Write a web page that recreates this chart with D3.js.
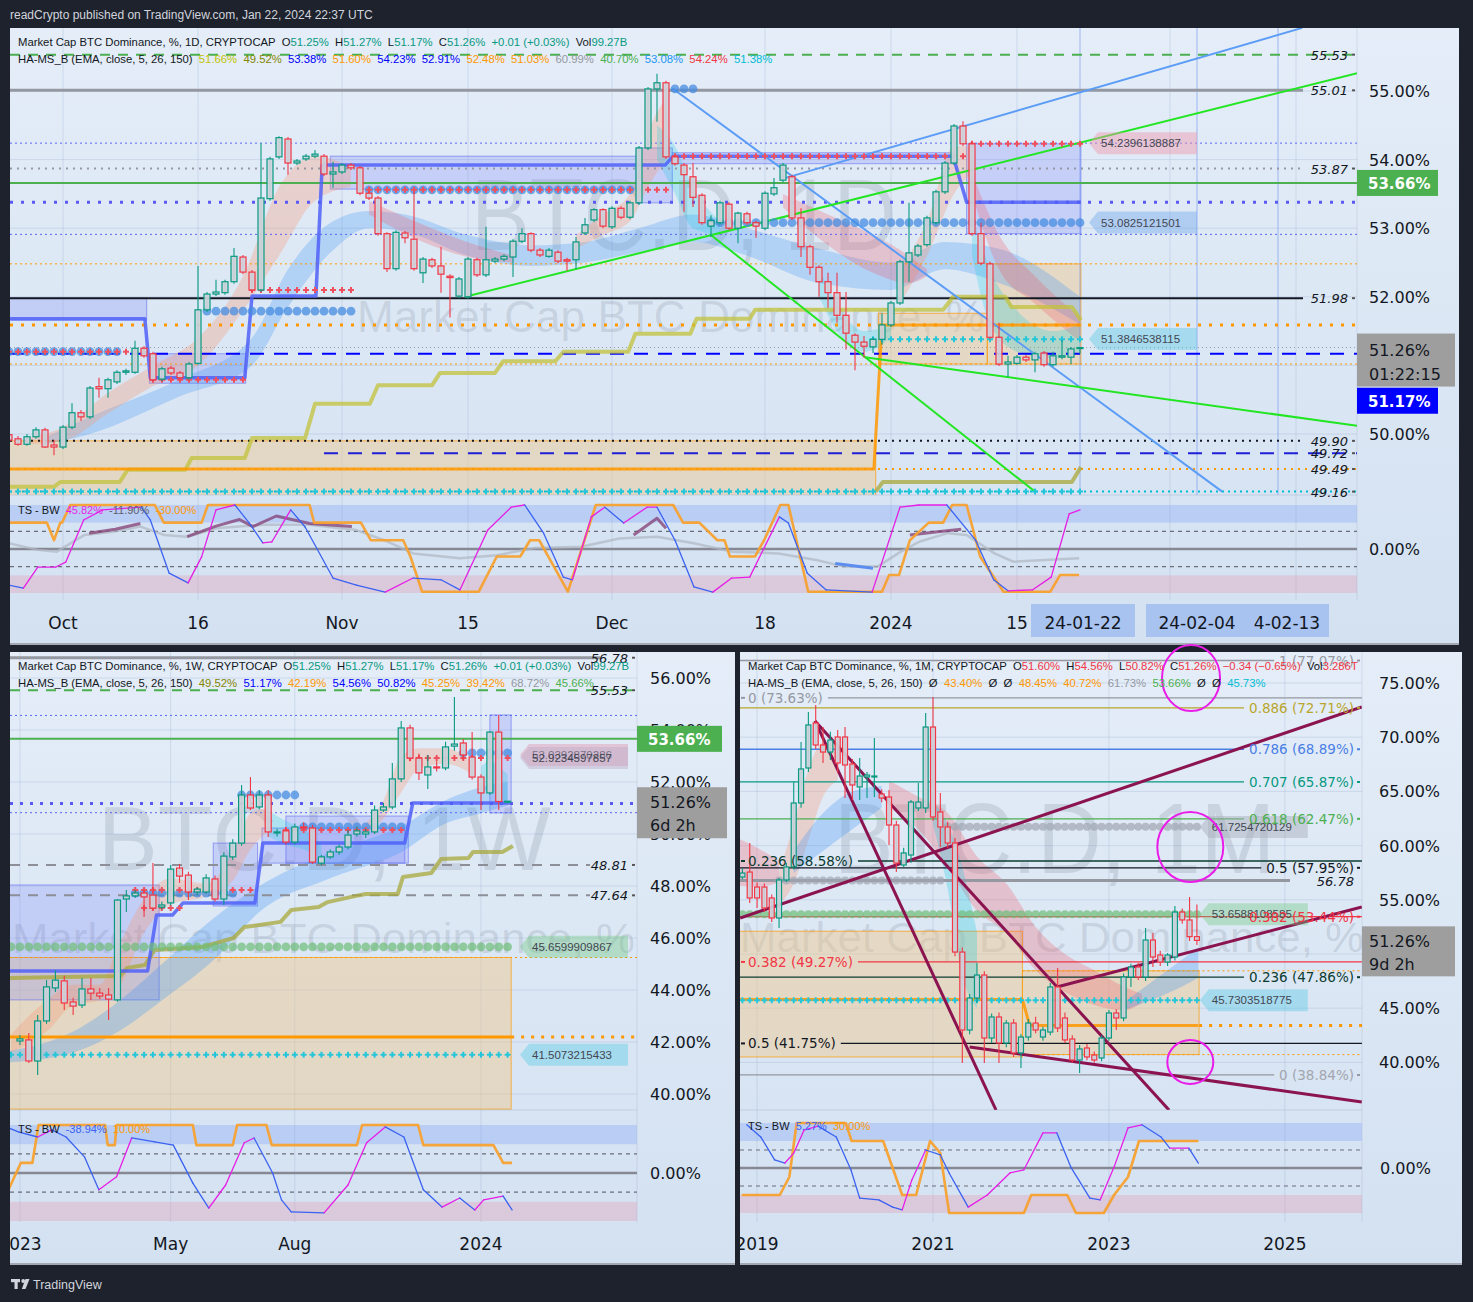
<!DOCTYPE html>
<html><head><meta charset="utf-8">
<script src="https://cdn.jsdelivr.net/npm/d3@7/dist/d3.min.js"></script>
<style>html,body{margin:0;padding:0;background:#1e222d;overflow:hidden}text{white-space:pre}</style>
</head><body>
<script>
/* ======================= DATA ======================= */
// ---- Panel 1 : daily (day index 0 = 2023-10-01, first candle = -6) ----
const dailyFirst=-6;
const dailyOpen=[49.99,49.93,49.85,49.96,50.06,49.84,49.81,50.10,50.31,50.25,50.69,50.66,50.76,50.90,50.90,51.25,51.17,50.80,50.96,50.89,50.82,51.03,51.81,52.04,52.06,52.22,52.58,52.36,52.10,53.43,54.04,54.30,53.95,54.01,54.05,54.05,53.79,53.82,53.92,53.88,53.51,53.44,52.92,52.41,52.93,52.84,52.35,52.54,52.45,52.30,52.01,52.00,52.54,52.32,52.52,52.55,52.58,52.81,52.92,52.68,52.59,52.65,52.54,52.54,52.93,53.12,53.27,53.02,53.29,53.16,53.37,54.17,55.03,55.12,54.04,53.92,53.75,53.48,53.03,53.08,53.35,53.00,53.21,53.08,53.00,53.50,53.70,53.75,53.15,52.73,52.43,52.22,52.06,51.73,51.44,51.34,51.27,51.38,51.59,51.91,52.51,52.61,52.76,53.08,53.53,53.95,54.49,54.23,52.92,52.48,51.41,51.02,51.03,51.12,51.08,51.18,51.01,51.12,51.12,51.25];
const dailyHigh=[50.03,49.97,50.00,50.10,50.09,49.91,50.13,50.45,50.35,50.70,50.82,50.82,50.93,50.95,51.36,51.28,51.20,50.98,50.99,50.92,51.05,52.45,52.07,52.25,52.25,52.71,52.61,52.39,54.24,54.04,54.34,54.33,54.01,54.08,54.14,54.08,53.97,53.95,53.95,53.91,53.54,53.47,52.94,52.97,52.96,53.53,52.58,52.57,52.73,52.33,52.29,52.58,52.57,53.02,52.58,52.62,52.84,53.00,52.94,52.71,52.71,52.68,52.57,52.87,53.15,53.29,53.29,53.32,53.32,53.40,54.20,55.06,55.25,55.15,54.07,53.95,53.95,53.51,53.19,53.40,53.38,53.24,53.24,53.11,53.54,53.73,53.95,53.78,53.29,52.76,52.46,52.35,52.35,52.07,51.47,51.43,51.41,51.76,51.94,52.54,53.37,52.77,53.18,53.56,53.98,54.52,54.56,54.26,53.08,52.51,51.62,51.14,51.15,51.15,51.20,51.21,51.20,51.37,51.27,51.27];
const dailyLow=[49.88,49.83,49.83,49.93,49.80,49.69,49.78,50.07,50.19,50.22,50.53,50.53,50.73,50.86,50.88,51.11,50.76,50.77,50.86,50.79,50.79,51.01,51.78,52.01,52.03,52.19,52.33,52.07,52.07,53.40,54.01,53.78,53.92,53.98,54.02,53.76,53.59,53.79,53.85,53.48,53.41,52.89,52.36,52.38,52.78,52.38,52.20,52.42,52.06,51.70,51.98,51.97,52.29,52.29,52.49,52.52,52.29,52.78,52.65,52.58,52.57,52.49,52.38,52.41,52.90,53.09,53.00,52.99,53.13,53.13,53.34,54.14,54.55,54.01,53.91,53.24,53.31,53.05,52.87,53.05,52.97,52.78,53.05,52.86,52.97,53.47,53.67,53.12,52.58,52.32,52.00,51.84,51.62,51.23,50.93,51.11,51.18,51.30,51.56,51.88,52.22,52.58,52.73,53.05,53.50,53.92,54.20,52.89,52.46,51.38,50.99,50.83,51.01,51.05,50.90,50.98,50.98,51.09,51.02,51.17];
const dailyClose=[49.91,49.85,49.96,50.06,49.81,49.81,50.10,50.31,50.25,50.67,50.66,50.79,50.90,50.92,51.25,51.14,50.79,50.95,50.89,50.82,51.02,51.81,52.04,52.07,52.22,52.59,52.36,52.10,53.44,54.01,54.32,53.95,53.98,54.05,54.08,53.79,53.82,53.92,53.88,53.51,53.44,52.92,52.41,52.94,52.86,52.41,52.55,52.45,52.33,52.28,52.26,52.55,52.32,52.54,52.55,52.59,52.81,52.92,52.68,52.61,52.68,52.52,52.52,52.80,53.05,53.27,53.03,53.29,53.16,53.37,54.17,55.03,55.12,54.04,53.94,53.78,53.45,53.08,53.11,53.37,53.00,53.22,53.08,53.03,53.51,53.59,53.92,53.15,52.73,52.43,52.22,52.06,51.73,51.47,51.34,51.28,51.38,51.59,51.91,52.51,52.64,52.74,53.15,53.53,53.95,54.49,54.23,52.92,52.49,51.41,51.02,51.05,51.12,51.08,51.17,51.01,51.14,51.14,51.24,51.26];
const dailyTickLabels=["Oct","16","Nov","15","Dec","18","2024","15"];
const dailyTickDays=[0,15,31,45,61,78,92,106];
const dailyGridDays=[0,15,31,45,61,78,92,106,123,137];
const dailyEventDays=[113,126,135];
const dailyPriceTicks=[55,54,53,52,51,50];
const dailyPriceLabels=[55,54,53,52,50];
const dailyLevels=[55.53,55.01,54.24,53.87,53.66,53.38,52.91,52.48,51.98,51.59,51.26,51.17,51.02,49.90,49.72,49.49,49.16];
const dailyLevelTexts=["55.53","55.01","53.87","51.98","49.90","49.72","49.49","49.16"];
const dailyLevelTextVals=[55.53,55.01,53.87,51.98,49.90,49.72,49.49,49.16];
const dailyZones=[[-7,90.3,49.90,48.9],[90.6,102.7,51.76,51.02],[102.7,113.1,52.48,51.02]];
const dailyBoxes=[[-7,9.3,51.98,51.66],[9.6,20.3,51.17,50.74],[29.7,63.7,54.05,53.57],[63.7,67.7,54.17,53.37],[67.7,99,54.10,53.94],[100.4,113.1,54.23,52.92]];
const dailyOliveD=[-7,-1,-0.3,6.3,7.2,13.6,14.3,20.2,21,26.9,28,34.1,35,41,41.9,48,48.9,54.7,55.6,62.8,63.6,69.7,70.4,76.3,76.9,97.8,98.9,104.7,105.4,112.1,113.1];
const dailyOliveV=[49.23,49.23,49.30,49.30,49.48,49.48,49.65,49.65,49.94,49.94,50.44,50.44,50.71,50.71,50.89,50.89,51.06,51.06,51.20,51.20,51.46,51.46,51.68,51.68,51.81,51.81,52.00,52.00,51.85,51.85,51.66];
const dailyOlive2D=[90.3,91.1,112.1,113.1], dailyOlive2V=[49.16,49.30,49.30,49.52];
const dailyOrangeD=[-7,90.1,91,113.1], dailyOrangeV=[49.49,49.49,51.59,51.59];
const dailyBlueD=[-7,9.1,9.7,20.2,21,28.1,28.8,66.9,67.8,98.9,100.4,113.1];
const dailyBlueV=[51.68,51.68,50.82,50.82,52.01,52.01,53.92,53.92,54.05,54.05,53.38,53.38];
const dailyBlueDots=[[51.79,16,32],[51.20,-6,6],[53.56,34,63],[55.03,68,70],[53.08,72,113]];
const dailyRedCross=[[51.20,-6,9],[50.79,10,20],[52.10,21,32],[53.56,34,67],[54.05,68,100],[54.23,101,113]];
const dailyCyanCross=[[51.38,90,113],[49.16,-6,113]];
const dailyTrendsBlue=[[67.7,55.04,128.8,49.16],[80.2,53.73,137.7,55.92]];
const dailyTrendsGreen=[[44.7,52.0,143.8,55.26],[72.1,52.89,108,49.16],[89.1,51.12,143.8,50.12]];
const dailyTags=[["54.2396138887",54.2396],["53.0825121501",53.0825],["51.3846538115",51.3847]];
const dailyRibBlue={d:[-2,3,13,21,25,30,34,38,45,52,58,64,70,76,84,92,98,104,113],t:[49.95,50.25,50.8,51.4,52.4,53.1,53.25,53.2,52.9,52.75,52.8,53.0,53.2,53.0,52.7,52.5,52.8,52.7,52.0],b:[49.85,50.0,50.55,51.0,51.85,52.68,53.0,52.95,52.6,52.45,52.5,52.65,52.8,52.6,52.2,52.1,52.4,52.2,51.6]};
const dailyRibPeach=[{d:[-4,0,5,10,15,20,24,28,32],t:[49.95,50.1,50.6,51.0,51.4,52.3,53.6,54.05,53.9],b:[49.85,49.9,50.3,50.7,51.0,51.8,52.6,53.4,53.6]},{d:[57,60,63,65,67],t:[52.9,53.2,53.5,54.4,54.9],b:[52.7,52.9,53.1,53.6,54.0]},{d:[93,96,99,101],t:[52.4,53.1,54.2,54.2],b:[51.9,52.6,53.5,53.8]}];
const dailyRibRed=[{d:[34,40,46,50],t:[53.4,53.05,52.75,52.6],b:[53.2,52.8,52.55,52.5]},{d:[80,85,90,94,96],t:[53.5,53.2,52.9,52.6,52.4],b:[53.3,52.75,52.35,52.2,52.3]},{d:[101,104,108,113],t:[53.8,52.9,52.3,51.7],b:[53.5,52.4,51.9,51.35]}];
const dailyRibCyan=[{d:[66,68,70,73],t:[54.5,54.2,53.6,53.1],b:[54.0,53.5,53.0,52.9]},{d:[84,86,89,92],t:[52.4,51.9,51.5,51.6],b:[52.0,51.5,51.2,51.4]},{d:[101,103,106,110,113],t:[53.2,52.4,51.8,51.5,51.6],b:[52.6,51.6,51.2,51.1,51.2]}];
const dailyOsc=[[-6,-82],[-4.4,-89],[-2.8,-41],[-0.8,-41],[0.3,-30],[2.3,66],[4.4,89],[8.7,95],[9.7,66],[11.8,-55],[13.9,-77],[15.4,-18],[17,89],[19.1,100],[20.7,59],[22.2,14],[23.2,16],[25.3,89],[26.9,50],[30,-66],[32.6,-82],[35.8,-98],[38.9,-66],[42,-70],[44.1,-93],[47.2,43],[49.8,95],[51.3,100],[53.4,36],[55.6,-64],[56.6,-70],[58.7,73],[60.2,95],[62.3,59],[64.9,95],[66,95],[68,20],[70.1,-86],[72.2,-98],[74.3,-66],[76.3,-64],[79.6,73],[80.6,59],[82.7,-55],[84.8,-93],[89.9,-98],[93,95],[95.1,100],[98.2,100],[101.4,20],[103.4,-70],[105,-95],[107.7,-93],[109.8,-64],[111.8,80],[113,89]];
const dailyTsOrange=[[-6,60],[-1.8,60],[-1,20],[-0.3,60],[-0.1,60],[0.8,100],[10.2,100],[11.2,60],[15.4,60],[16.1,100],[27.4,100],[27.9,60],[33.1,60],[34.2,20],[37.8,20],[38.6,-17],[39.9,-97],[46.2,-97],[48.2,-17],[50.8,-17],[51.9,20],[52.9,20],[56.1,-97],[59.2,100],[67.8,100],[68.9,60],[70.7,60],[72.7,20],[73.5,20],[74.1,-17],[76.9,-17],[77.9,20],[79.7,100],[80.6,100],[82.8,-97],[91,-97],[91.8,-59],[92.9,-59],[94.1,20],[96.2,60],[97.8,60],[98.8,100],[100.4,100],[101.9,-17],[104.5,-97],[109.7,-97],[110.8,-59],[112.9,-59]];
const dailyTsGray=[[-6,13],[-2.8,-2],[-0.7,-6],[2.4,32],[5.5,39],[8.6,51],[11.2,32],[13.8,28],[17,47],[22.2,55],[27.4,55],[32.6,43],[35.7,20],[38.9,-10],[44.1,-21],[48.2,-14],[52.4,2],[57.6,5],[61.8,24],[66,28],[70.1,13],[74.3,-6],[79.5,-10],[83.7,-25],[86.8,-40],[90.5,-40],[93.1,-6],[95.2,17],[98.3,36],[100.4,32],[103.5,-10],[105.6,-29],[112.9,-21]];
const dailyTsPurple=[[[2.9,36],[5.8,45],[8.6,58]],[[13.8,28],[17,52],[19.6,67],[21.1,51],[23.7,75],[27.4,58],[32.1,51]],[[63.4,32],[66,70],[67,47]],[[94.1,32],[97.2,39],[99.8,45]]];
const dailyTsBlueSeg=[[85.8,-33],[90,-44]];

// ---- Panel 2 : weekly (week index 0 = 2024-01-01, first candle = -52) ----
const weeklyFirst=-52;
const weeklyOpen=[42.04,42.08,41.27,42.81,44.08,44.35,43.54,43.42,44.04,43.88,43.81,43.62,47.50,47.62,47.73,47.65,47.19,47.35,48.69,48.42,47.77,47.77,48.27,47.50,49.12,49.65,51.50,51.04,51.50,50.04,50.12,49.69,50.27,50.23,48.88,49.12,49.31,49.50,50.00,50.00,50.08,50.92,51.04,52.12,54.08,52.92,52.27,52.58,52.54,53.38,53.50,52.96,52.19,51.58,53.92,51.25];
const weeklyHigh=[42.27,42.35,43.04,44.38,44.77,44.55,43.70,44.46,44.46,44.08,44.08,47.50,47.85,47.85,47.85,48.88,47.40,48.81,48.85,48.55,47.95,48.45,48.40,49.30,49.80,51.88,52.19,51.69,51.69,50.20,50.25,50.40,50.45,50.35,49.20,49.40,49.60,50.15,50.30,50.20,51.10,51.20,52.73,54.35,54.20,53.10,53.04,52.80,53.55,55.27,53.65,53.92,52.30,53.95,54.58,51.27];
const weeklyLow=[41.88,41.19,40.73,42.70,43.92,43.23,43.04,43.31,43.62,43.65,42.85,43.55,47.00,47.55,46.81,47.08,47.10,47.25,48.12,47.46,47.65,47.70,47.40,47.27,49.00,49.55,50.92,50.95,49.88,49.90,49.60,49.60,50.15,48.85,48.80,49.05,49.20,49.40,49.90,49.85,50.00,50.85,50.95,52.00,52.80,52.08,51.73,52.40,52.45,53.20,52.85,52.10,50.92,51.50,50.92,51.17];
const weeklyClose=[42.12,41.27,42.81,44.12,44.38,43.50,43.38,44.04,43.88,43.77,43.65,47.46,47.62,47.73,47.58,47.15,47.27,48.65,48.38,47.77,47.88,48.31,47.50,49.15,49.65,51.50,51.00,51.50,50.08,50.08,49.69,50.27,50.23,48.92,49.12,49.31,49.50,49.96,50.12,50.08,50.92,51.04,52.12,54.08,52.92,52.35,52.58,52.54,53.35,53.46,53.04,52.19,51.58,53.92,51.25,51.26];
const weeklyTickLabels=["2023","May","Aug","2024"];
const weeklyTickWeeks=[-52,-35,-21,0];
const weeklyPriceTicks=[56,54,52,50,48,46,44,42,40];
const weeklyLevelTexts=["56.78","55.53","48.81","47.64"];
const weeklyLevelTextVals=[56.78,55.53,48.81,47.64];
const weeklyZones=[[-54,3.4,45.25,39.42]];
const weeklyBoxes=[[-54,-36.3,48.04,43.62],[-30.2,-25.2,49.65,47.23],[-24.7,-8.6,50.23,48.88],[-22,-8.2,50.69,48.88],[1,3.4,54.58,50.81]];
const weeklyBlueD=[-54,-37.6,-36.6,-34.8,-33.6,-25.5,-24.6,-8.6,-7.7,3.3];
const weeklyBlueV=[44.73,44.73,46.88,46.88,47.35,47.35,49.65,49.65,51.19,51.19];
const weeklyOliveD=[-54,-40.7,-39.9,-37.9,-36.8,-31.5,-27.9,-26.7,-22.6,-21.4,-18.3,-17.3,-14.1,-13,-9.4,-8.8,-5.6,-4.5,-1.4,-0.9,2.4,3.6];
const weeklyOliveV=[44.46,44.54,44.85,44.96,45.54,45.65,46.0,46.42,46.62,47.08,47.19,47.38,47.62,47.69,47.69,48.35,48.5,49.04,49.08,49.31,49.31,49.54];
const weeklyBlueDots=[[47.73,-39,-28],[51.5,-27,-21],[50.27,-20,-9],[53.12,-2,3]];
const weeklyRedCross=[[47.85,-39,-26],[47.15,-38,-34],[50.15,-22,-9],[52.92,-8,3]];
const weeklyGreenDots=[[45.66,-53,3]];
const weeklyCyanCross=[[41.51,-53,3]];
const weeklyTags=[["53.0392870286",53.04],["52.9234597857",52.92],["45.6599909867",45.66],["41.5073215433",41.51]];
const weeklyRibBlue={d:[-54,-46,-40,-36,-30,-25,-17,-9,-4,0,3],t:[41.6,42.4,43.8,45.0,46.8,48.0,49.3,50.3,51.3,51.8,52.0],b:[41.2,41.6,42.6,43.6,45.2,47.0,48.3,49.3,50.4,50.8,51.1]};
const weeklyRibPeach=[{d:[-53,-49,-46,-43,-41,-38,-35,-31,-28,-26,-24],t:[42.3,43.6,44.2,44.2,45.6,47.5,48.3,48.1,49.3,50.8,51.0],b:[41.6,42.4,43.4,43.6,44.0,46.2,47.3,47.6,48.2,49.4,50.1]},{d:[-13,-11,-9,-7,-4,-1],t:[50.4,51.3,53.0,53.3,53.3,52.8],b:[50.0,50.6,51.6,52.5,52.7,52.3]}];
const weeklyRibCyan=[{d:[-24,-22,-20,-18],t:[50.9,50.5,50.2,49.6],b:[49.9,49.6,49.4,49.1]},{d:[0,1,2,3],t:[52.6,52.8,52.6,52.3],b:[51.6,51.7,51.4,51.2]}];
const weeklyOsc=[[-53.3,94],[-52.1,85],[-50,75],[-48.4,90],[-46.8,75],[-44.7,33],[-43.1,-35],[-41.1,-8],[-39.4,73],[-36.8,65],[-34.7,58],[-32.5,-21],[-30.7,-73],[-28.8,-25],[-26.7,63],[-25.6,73],[-23.5,0],[-22.5,-56],[-21.4,-81],[-17.7,-83],[-15,-25],[-12.9,63],[-10.8,96],[-8.7,75],[-6.5,-35],[-4.4,-71],[-2.4,-52],[-0.7,-77],[0.3,-56],[2.5,-48],[3.5,-77]];
const weeklyTsOrange=[[-53.3,-35],[-51.9,21],[-50.6,21],[-49.9,100],[-42.4,100],[-42.1,58],[-41.3,58],[-41.1,100],[-32.5,100],[-32.1,58],[-28,58],[-27.5,100],[-24.2,100],[-23.6,58],[-14,58],[-13.4,100],[-7.1,100],[-6.5,58],[1.4,58],[2.5,21],[3.5,21]];

// ---- Panel 3 : monthly (month index 0 = 2021-01, first candle = -26) ----
const monthlyFirst=-26;
const monthlyOpen=[57.10,57.56,56.18,56.18,55.17,53.32,56.83,58.03,63.93,67.16,71.31,69.28,68.63,70.02,70.02,67.53,65.41,66.33,66.33,64.76,64.48,61.90,58.21,59.13,63.47,63.47,70.94,63.10,61.72,60.24,50.18,42.99,45.94,48.06,42.25,44.19,41.79,43.63,40.87,42.34,43.63,42.34,42.80,46.96,44.10,42.16,40.22,41.33,40.68,40.41,42.25,44.56,44.10,47.88,48.80,47.88,51.29,49.91,49.26,49.72,53.87,53.14,51.60];
const monthlyHigh=[57.90,60.24,56.60,56.50,55.50,57.00,58.39,65.87,69.56,72.32,72.97,70.94,70.50,70.66,70.94,68.00,68.08,66.79,69.93,65.20,65.13,62.30,59.80,64.21,65.77,72.23,73.71,64.85,62.20,60.70,50.60,46.30,49.17,48.40,44.50,44.60,43.90,44.00,42.60,44.00,44.20,43.30,47.32,48.71,44.60,42.50,41.60,41.70,41.00,42.50,44.84,44.90,48.20,49.10,49.20,52.40,51.94,50.30,50.09,54.43,54.20,55.25,54.56];
const monthlyLow=[56.90,54.70,54.24,53.87,52.95,52.40,56.65,57.80,63.50,66.80,68.90,67.62,67.90,66.70,64.39,64.21,64.21,64.39,64.48,64.00,60.06,57.56,58.03,58.39,63.20,63.00,62.30,59.87,59.80,49.80,39.94,42.60,45.50,39.94,41.80,39.94,41.40,40.50,39.48,42.00,42.70,42.00,42.50,42.80,41.80,40.00,39.02,40.20,40.00,40.10,42.00,42.99,43.80,46.96,47.60,47.50,48.80,48.90,48.90,49.40,52.80,51.20,50.82];
const monthlyClose=[57.47,55.17,55.17,54.24,53.32,56.83,58.03,63.93,67.07,71.13,69.28,68.63,69.74,67.62,67.44,65.59,66.42,66.51,66.42,64.39,61.90,58.39,59.32,64.02,64.02,70.94,62.64,61.72,60.24,50.18,42.99,45.94,48.06,42.25,44.19,41.79,43.63,40.87,42.34,43.63,42.99,42.99,46.96,43.17,42.07,40.22,41.24,40.50,40.22,42.25,44.56,44.10,47.88,48.80,47.88,51.29,49.72,49.26,49.91,53.87,53.14,51.60,51.26];
const monthlyTickLabels=["2019","2021","2023","2025"];
const monthlyTickMonths=[-24,0,24,48];
const monthlyPriceTicks=[75,70,65,60,55,50,45,40];
const monthlyPriceLabels=[75,70,65,60,55,45,40];
const fibRightVals=[77.07,72.71,68.89,65.87,62.47,57.95,53.44,47.86,38.84];
const fibRightNames=["1","0.886","0.786","0.707","0.618","0.5","0.382","0.236","0"];
const fibLeftVals=[73.63,58.58,49.27,41.75];
const fibLeftNames=["0","0.236","0.382","0.5"];
const monthlyZones=[[-27,12.2,52.1,40.5],[12.2,36.3,48.45,40.72]];
const monthlyOrangeD=[-27,12.2,13.2,36.2], monthlyOrangeV=[45.8,45.8,43.40,43.40];
const monthlyGrayDots=[[61.73,2,36],[56.78,-21,1]];
const monthlyGreenDots=[[53.66,-26,36]];
const monthlyCyanCross=[[45.73,-26,36]];
const monthlyTrends=[[-26.3,53.32,58.5,72.79],[16.9,46.96,58.5,54.34],[-16.1,71.5,8.6,35.6],[-16.1,71.5,32.2,35.6],[5.0,41.42,58.5,36.35]];
const monthlyCircles=[[35.2,75.46],[35.1,59.87],[35.1,40.04]];
const monthlyTags=[["61.7254720129",61.7255],["53.6588108585",53.6588],["45.7303518775",45.7304]];
const monthlyRibRed=[{d:[-27,-24,-21],t:[60.8,59.8,58.6],b:[56.3,56.2,56.6]},{d:[-6,-2,2,6,10,14,18,22,26,28.5],t:[66,64.5,63,59,56.5,52.5,50,48.5,47,46.3],b:[63.5,61.5,58,54,52,48.5,46.5,45.3,44.8,45.5]}];
const monthlyRibPeach=[{d:[-21,-19,-17,-15,-13],t:[57.5,62,67,69.5,69.5],b:[54.5,56.5,60.5,64.5,66]}];
const monthlyRibBlue=[{d:[-19,-15,-11,-7],t:[59.5,63,65,65.5],b:[57.5,59.5,61.5,63.5]},{d:[26,30,34,36.2],t:[45.5,47.5,49.5,50.6],b:[44.8,45.8,47,47.8]}];
const monthlyRibCyan=[{d:[0,2,4,6],t:[64,62,58,52],b:[62,56,48,45]}];
const monthlyOsc=[[-25.4,96],[-23.5,69],[-21.6,18],[-20.2,11],[-19,33],[-17.6,84],[-15.7,93],[-13.2,69],[-11.2,-4],[-10,-67],[-7.4,-71],[-5.5,-87],[-4.2,-93],[-2.9,-27],[-1,40],[1,29],[2.2,-11],[4.8,-87],[7.4,-60],[10.5,-11],[12.4,-4],[15,78],[16.9,78],[18.8,2],[21.4,-67],[22.8,-71],[24.7,2],[26.6,89],[28.5,96],[31.1,69],[32.3,44],[34.9,44],[36.2,11]];
const monthlyTsOrange=[[-26.1,-60],[-20.9,-60],[-19.6,-20],[-18.6,100],[-11.9,100],[-11.1,60],[-6.8,60],[-4.2,-60],[-2.3,-60],[-0.4,60],[1,33],[2.2,-100],[12.4,-100],[13.4,-60],[18.3,-60],[19.5,-100],[23.3,-100],[24.7,-60],[26.6,-20],[28.1,60],[36.2,60]];

/* ======================= DRAWING ======================= */
const F="'Liberation Sans',Arial,sans-serif", FA="'DejaVu Sans',sans-serif";
const DARK="#131722", UP="#089981", DN="#f23645", BODY="rgba(206,211,219,0.92)";
const GRID="rgba(140,165,200,0.25)", WM="rgba(110,120,140,0.2)", ZONE="rgba(240,200,140,0.45)";
const LAV="rgba(105,115,250,0.22)", LAVS="rgba(90,100,240,0.55)";
const svg=d3.select('body').append('svg').attr('width',1473).attr('height',1302);
const defs=svg.append('defs');
const lg=defs.append('linearGradient').attr('id','bg').attr('x1','0').attr('y1','0').attr('x2','0').attr('y2','1');
lg.append('stop').attr('offset','0').attr('stop-color','#e4edf8');
lg.append('stop').attr('offset','1').attr('stop-color','#d3e1f1');
svg.append('rect').attr('width',1473).attr('height',1302).attr('fill','#1e222d');

function clip(id,x,y,w,h){defs.append('clipPath').attr('id',id).append('rect').attr('x',x).attr('y',y).attr('width',w).attr('height',h);}
function hl(g,xa,xb,y,c,w,da){return g.append('line').attr('x1',xa).attr('x2',xb).attr('y1',y).attr('y2',y).attr('stroke',c).attr('stroke-width',w).attr('stroke-dasharray',da||null);}
function vl(g,x,ya,yb,c,w,da){return g.append('line').attr('x1',x).attr('x2',x).attr('y1',ya).attr('y2',yb).attr('stroke',c).attr('stroke-width',w).attr('stroke-dasharray',da||null);}
function rc(g,xa,ya,xb,yb,fill,stroke,sw){return g.append('rect').attr('x',Math.min(xa,xb)).attr('y',Math.min(ya,yb)).attr('width',Math.abs(xb-xa)).attr('height',Math.abs(yb-ya)).attr('fill',fill).attr('stroke',stroke||'none').attr('stroke-width',sw||1);}
function pl(g,pts,c,w,da,op){return g.append('path').attr('d',d3.line()(pts)).attr('fill','none').attr('stroke',c).attr('stroke-width',w).attr('stroke-dasharray',da||null).attr('stroke-linejoin','round').attr('opacity',op||1);}
function tx(g,x,y,s,o){o=o||{};const t=g.append('text').attr('x',x).attr('y',y).text(s).attr('font-family',o.f||F).attr('font-size',o.s||12).attr('fill',o.c||DARK);if(o.a)t.attr('text-anchor',o.a);if(o.w)t.attr('font-weight',o.w);if(o.i)t.attr('font-style','italic');if(o.L)t.attr('textLength',o.L).attr('lengthAdjust','spacingAndGlyphs');return t;}
function rich(g,x,y,parts,s){const t=g.append('text').attr('x',x).attr('y',y).attr('font-family',F).attr('font-size',s||11.3);parts.forEach(p=>t.append('tspan').attr('fill',p[1]).text(p[0]));return t;}
function ribbon(g,xs,ys,r,fill){const n=d3.range(r.d.length);const ar=d3.area().curve(d3.curveMonotoneX).x(i=>xs(r.d[i])).y0(i=>ys(r.b[i])).y1(i=>ys(r.t[i]));g.append('path').attr('d',ar(n)).attr('fill',fill);}
function candles(g,xs,ys,first,O,Hh,Lw,C,bw){O.forEach((o,i)=>{const x=xs(first+i),c=C[i],col=c>=o?UP:DN;vl(g,x,ys(Hh[i]),ys(Lw[i]),col,1.1);const yt=ys(Math.max(o,c)),yb=ys(Math.min(o,c));g.append('rect').attr('x',x-bw/2).attr('y',yt).attr('width',bw).attr('height',Math.max(1,yb-yt)).attr('fill',BODY).attr('stroke',col).attr('stroke-width',1.2);});}
function dotRow(g,xs,ys,rows,c,r){rows.forEach(([v,a,b])=>{for(let d=a;d<=b;d++)g.append('circle').attr('cx',xs(d)).attr('cy',ys(v)).attr('r',r).attr('fill',c);});}
function crossRow(g,xs,ys,rows,c,s){rows.forEach(([v,a,b])=>{const y=ys(v);let p='';for(let d=a;d<=b;d++){const x=xs(d);p+=`M${x-s},${y}H${x+s}M${x},${y-s}V${y+s}`;}g.append('path').attr('d',p).attr('stroke',c).attr('stroke-width',2).attr('fill','none');});}
function tag(g,x,y,s,fill){g.append('path').attr('d',`M${x},${y}L${x+9},${y-11}H${x+108}V${y+11}H${x+9}Z`).attr('fill',fill);tx(g,x+12,y+4,s,{s:11.5,c:'#434651'});}
function oscLine(g,xs,ys,pts){for(let i=0;i<pts.length-1;i++){const a=pts[i],b=pts[i+1];g.append('line').attr('x1',xs(a[0])).attr('y1',ys(a[1])).attr('x2',xs(b[0])).attr('y2',ys(b[1])).attr('stroke',b[1]>=a[1]?'#e61ee6':'#3b62f2').attr('stroke-width',1.3).attr('stroke-linecap','round');}}
function stepL(g,xs,ys,D,V,c,w,op){return pl(g,D.map((d,i)=>[xs(d),ys(V[i])]),c,w,null,op);}
function trend(g,xs,ys,t,c,w){return pl(g,[[xs(t[0]),ys(t[1])],[xs(t[2]),ys(t[3])]],c,w);}
function makePanel(P,id){
  svg.append('rect').attr('x',P.x0).attr('y',P.y0).attr('width',P.x1-P.x0).attr('height',P.y1-P.y0).attr('fill','url(#bg)');
  clip(id+'p',P.x0,P.y0,P.px1-P.x0,P.py1-P.y0);
  clip(id+'i',P.x0,P.py1,P.px1-P.x0,P.iy1-P.py1);
  clip(id+'t',P.x0,P.iy1,P.x1-P.x0,P.y1-P.iy1);
  const gp=svg.append('g').attr('clip-path',`url(#${id}p)`);
  const gi=svg.append('g').attr('clip-path',`url(#${id}i)`);
  const gt=svg.append('g').attr('clip-path',`url(#${id}t)`);
  hl(svg,P.x0,P.x1,P.y1-1,'#a3a8b3',2);
  hl(svg,P.x0,P.px1,P.py1,'rgba(150,165,190,0.35)',1);
  vl(svg,P.px1,P.y0,P.iy1,'rgba(150,165,190,0.25)',1);
  return {gp,gi,gt};
}
function indicator(g,P,xs,ys,osc,orange){
  rc(g,P.x0,ys(100),P.px1,ys(60),'rgba(110,150,250,0.28)');
  rc(g,P.x0,ys(-60),P.px1,ys(-100),'rgba(230,160,185,0.38)');
  hl(g,P.x0,P.px1,ys(40),'#6a6d78',1.2,'4,4');
  hl(g,P.x0,P.px1,ys(-40),'#6a6d78',1.2,'4,4');
  hl(g,P.x0,P.px1,ys(0),'#868993',2.5);
  return ()=>{pl(g,orange.map(p=>[xs(p[0]),ys(p[1])]),'#f7a12f',2.6,null,0.95);oscLine(g,xs,ys,osc);};
}
const fmt=v=>v.toFixed(2)+'%';

/* ---------- top title & footer ---------- */
tx(svg,10,19,'readCrypto published on TradingView.com, Jan 22, 2024 22:37 UTC',{s:12,c:'#d1d4dc'});
const lgo=svg.append('g').attr('fill','#d1d4dc');
lgo.append('rect').attr('x',11).attr('y',1279).attr('width',9).attr('height',3.2);
lgo.append('rect').attr('x',14.5).attr('y',1279).attr('width',3.2).attr('height',10);
lgo.append('circle').attr('cx',23.2).attr('cy',1281).attr('r',1.9);
lgo.append('path').attr('d','M25.5,1279H29.5L25.5,1289H21.8Z');
tx(svg,33,1289,'TradingView',{s:12.5,c:'#d1d4dc'});

/* =================== PANEL 1 (1D) =================== */
const P1={x0:10,x1:1459,y0:28,y1:645,px1:1357,py1:495,iy1:600};
const A=makePanel(P1,'a');
const xD=d3.scaleLinear().domain([0,113]).range([63,1080]);
const yD=d3.scaleLinear().domain([55,50]).range([91,434]);
const iD=d3.scaleLinear().domain([100,-100]).range([505,593]);
dailyPriceTicks.forEach(v=>hl(A.gp,P1.x0,P1.px1,yD(v),GRID,1));
dailyGridDays.forEach(d=>{vl(A.gp,xD(d),P1.y0,P1.py1,GRID,1);vl(A.gi,xD(d),P1.py1,P1.iy1,GRID,1);});
tx(A.gp,471,250,'BTC.D, 1D',{s:102,c:WM,L:426});
tx(A.gp,357,332,'Market Cap BTC Dominance, %',{s:45,c:WM,L:628});
dailyZones.forEach(z=>rc(A.gp,xD(z[0]),yD(z[2]),xD(z[1]),yD(z[3]),ZONE,'rgba(255,152,0,0.7)',1));
dailyBoxes.forEach(z=>rc(A.gp,xD(z[0]),yD(z[2]),xD(z[1]),yD(z[3]),LAV,LAVS,1));
ribbon(A.gp,xD,yD,dailyRibBlue,'rgba(66,150,245,0.28)');
dailyRibPeach.forEach(r=>ribbon(A.gp,xD,yD,r,'rgba(250,150,110,0.3)'));
dailyRibRed.forEach(r=>ribbon(A.gp,xD,yD,r,'rgba(242,80,95,0.25)'));
dailyRibCyan.forEach(r=>ribbon(A.gp,xD,yD,r,'rgba(0,200,225,0.22)'));
dailyEventDays.forEach(d=>vl(A.gp,xD(d),P1.y0,P1.py1,'rgba(90,130,240,0.5)',1));
// levels
(function(){
  const L=dailyLevels, end=1303, g=A.gp, X0=P1.x0, X1=P1.px1;
  hl(g,X0,X1,yD(L[0]),'#4caf50',2,'10,8');
  hl(g,X0,end,yD(L[1]),'#9598a1',3);
  hl(g,X0,X1,yD(L[2]),'#5866f5',1,'2,3');
  hl(g,X0,end,yD(L[3]),'#9598a1',2,'2,5');
  hl(g,X0,X1,yD(L[4]),'#4caf50',2);
  hl(g,X0,X1,yD(L[5]),'#5a5af2',3,'3,8');
  hl(g,X0,X1,yD(L[6]),'#5866f5',1,'2,3');
  hl(g,X0,X1,yD(L[7]),'#ff9800',1,'2,3');
  hl(g,X0,end,yD(L[8]),DARK,2);
  hl(g,X0,X1,yD(L[9]),'#ff9800',3,'3,8');
  hl(g,X0,X1,yD(L[10]),'#9598a1',1,'1,3');
  hl(g,X0,X1,yD(L[11]),'#0000ff',2,'14,10');
  hl(g,X0,X1,yD(L[12]),'#ff9800',1,'2,3');
  hl(g,X0,end,yD(L[13]),DARK,2,'2,5');
  hl(g,xD(29),X1,yD(L[14]),'#1f1fd8',2,'14,10');
  hl(g,X0,X1,yD(L[15]),'#ff9800',2,'2,5');
  hl(g,X0,X1,yD(L[16]),'#00bcd4',2,'2,4');
})();
stepL(A.gp,xD,yD,dailyOliveD,dailyOliveV,'#c2c23a',4,0.75);
stepL(A.gp,xD,yD,dailyOlive2D,dailyOlive2V,'#a8a83a',4,0.75);
stepL(A.gp,xD,yD,dailyOrangeD,dailyOrangeV,'#ff9800',3,0.85);
stepL(A.gp,xD,yD,dailyBlueD,dailyBlueV,'#5060f8',3.5,0.85);
dailyTrendsBlue.forEach(t=>trend(A.gp,xD,yD,t,'#5b9cf6',2));
dailyTrendsGreen.forEach(t=>trend(A.gp,xD,yD,t,'#22e622',2));
dotRow(A.gp,xD,yD,dailyBlueDots,'rgba(70,140,225,0.75)',4.4);
crossRow(A.gp,xD,yD,dailyRedCross,'#f0505e',3);
crossRow(A.gp,xD,yD,dailyCyanCross,'#26c6da',3);
candles(A.gp,xD,yD,dailyFirst,dailyOpen,dailyHigh,dailyLow,dailyClose,6);
tag(A.gp,xD(114),yD(dailyTags[0][1]),dailyTags[0][0],'rgba(240,150,170,0.45)');
tag(A.gp,xD(114),yD(dailyTags[1][1]),dailyTags[1][0],'rgba(100,160,235,0.38)');
tag(A.gp,xD(114),yD(dailyTags[2][1]),dailyTags[2][0],'rgba(80,200,230,0.38)');
// indicator
const fin1=indicator(A.gi,P1,xD,iD,dailyOsc,dailyTsOrange);
pl(A.gi,dailyTsGray.map(p=>[xD(p[0]),iD(p[1])]),'rgba(175,182,195,0.7)',2.5);
pl(A.gi,dailyTsBlueSeg.map(p=>[xD(p[0]),iD(p[1])]),'#5b8cf0',3);
dailyTsPurple.forEach(s=>pl(A.gi,s.map(p=>[xD(p[0]),iD(p[1])]),'rgba(130,60,115,0.75)',3));
fin1();
// axes & labels
dailyPriceLabels.forEach(v=>tx(svg,1369,yD(v)+6,fmt(v),{f:FA,s:16}));
tx(svg,1369,iD(0)+6,'0.00%',{f:FA,s:16});
dailyLevelTextVals.forEach((v,i)=>{tx(svg,1348,yD(v)+5,dailyLevelTexts[i],{f:FA,s:13,i:1,a:'end'});hl(svg,1352,1355,yD(v),'#555',2);});
rc(svg,1357,yD(53.66)-13,1438,yD(53.66)+13,'#4caf50');
tx(svg,1368,yD(53.66)+6,'53.66%',{f:FA,s:15,c:'#fff',w:'bold'});
rc(svg,1357,yD(51.26)-14,1455,yD(51.26)+39,'#9e9e9e');
tx(svg,1369,yD(51.26)+8,'51.26%',{f:FA,s:16});
tx(svg,1369,yD(51.26)+32,'01:22:15',{f:FA,s:16});
rc(svg,1357,yD(51.17)+34,1438,yD(51.17)+60,'#0000ff');
tx(svg,1368,yD(51.17)+53,'51.17%',{f:FA,s:15,c:'#fff',w:'bold'});
dailyTickDays.forEach((d,i)=>tx(A.gt,xD(d),629,dailyTickLabels[i],{f:FA,s:17,a:'middle'}));
rc(A.gt,xD(113)-49,604,xD(113)+55,637,'#a9c3f1');
tx(A.gt,xD(113)+3,629,'24-01-22',{f:FA,s:17,a:'middle'});
rc(A.gt,xD(126)-51,604,xD(135)+51,637,'#a9c3f1');
tx(A.gt,xD(126),629,'24-02-04',{f:FA,s:17,a:'middle'});
tx(A.gt,xD(135)+9,629,'4-02-13',{f:FA,s:17,a:'middle'});
rich(svg,18,46,[["Market Cap BTC Dominance, %, 1D, CRYPTOCAP  O",DARK],["51.25%",UP],["  H",DARK],["51.27%",UP],["  L",DARK],["51.17%",UP],["  C",DARK],["51.26%",UP],["  +0.01 (+0.03%)",UP],["  Vol",DARK],["99.27B",UP]]);
rich(svg,18,63,[["HA-MS_B (EMA, close, 5, 26, 150)  ",DARK],["51.66%  ","#c3c300"],["49.52%  ","#858500"],["53.38%  ","#0000ff"],["51.60%  ","#ff9800"],["54.23%  ","#0000ff"],["52.91%  ","#0000ff"],["52.48%  ","#ff9800"],["51.03%  ","#ff9800"],["60.99%  ","#9598a1"],["40.70%  ","#4caf50"],["53.08%  ","#2196f3"],["54.24%  ","#f23645"],["51.38%","#00bcd4"]]);
rich(svg,18,514,[["TS - BW  ",DARK],["45.82%","#e61ee6"],["  -11.90%",'#5d606b'],["  -30.00%","#ff9800"]],11);

/* =================== PANEL 2 (1W) =================== */
const P2={x0:10,x1:735,y0:652,y1:1265,px1:637,py1:1110,iy1:1222};
const B=makePanel(P2,'b');
const xW=d3.scaleLinear().domain([0,3]).range([481,507.6]);
const yW=d3.scaleLinear().domain([56,40]).range([678,1094]);
const iW=d3.scaleLinear().domain([100,-100]).range([1125,1221]);
weeklyPriceTicks.forEach(v=>hl(B.gp,P2.x0,P2.px1,yW(v),GRID,1));
weeklyTickWeeks.forEach(w=>{vl(B.gp,xW(w),P2.y0,P2.py1,GRID,1);vl(B.gi,xW(w),P2.py1,P2.iy1,GRID,1);});
tx(B.gp,98,870,'BTC.D, 1W',{s:90,c:WM,L:453});
tx(B.gp,12,953,'Market Cap BTC Dominance, %',{s:43,c:WM,L:623});
weeklyZones.forEach(z=>rc(B.gp,xW(z[0]),yW(z[2]),xW(z[1]),yW(z[3]),ZONE,'rgba(255,152,0,0.7)',1));
weeklyBoxes.forEach(z=>rc(B.gp,xW(z[0]),yW(z[2]),xW(z[1]),yW(z[3]),LAV,LAVS,1));
ribbon(B.gp,xW,yW,weeklyRibBlue,'rgba(66,150,245,0.3)');
weeklyRibPeach.forEach(r=>ribbon(B.gp,xW,yW,r,'rgba(250,150,110,0.3)'));
weeklyRibCyan.forEach(r=>ribbon(B.gp,xW,yW,r,'rgba(0,200,225,0.22)'));
hl(B.gp,P2.x0,600,yW(56.78),'#9598a1',3);
hl(B.gp,P2.x0,P2.px1,yW(55.53),'#4caf50',2,'10,8');
hl(B.gp,P2.x0,P2.px1,yW(54.56),'#5866f5',1,'2,3');
hl(B.gp,P2.x0,P2.px1,yW(53.66),'#4caf50',2);
hl(B.gp,P2.x0,P2.px1,yW(51.17),'#5a5af2',3,'3,7');
hl(B.gp,P2.x0,P2.px1,yW(50.82),'#5866f5',1,'2,3');
hl(B.gp,P2.x0,590,yW(48.81),'#8c8f98',2,'10,8');
hl(B.gp,P2.x0,590,yW(47.64),'#8c8f98',2,'10,8');
hl(B.gp,P2.x0,P2.px1,yW(45.25),'#ff9800',1,'2,3');
hl(B.gp,P2.x0,xW(3.4),yW(42.19),'#ff9800',3);
hl(B.gp,xW(3.4),P2.px1,yW(42.19),'#ff9800',3,'3,7');
stepL(B.gp,xW,yW,weeklyOliveD,weeklyOliveV,'#a8a83a',4,0.75);
stepL(B.gp,xW,yW,weeklyBlueD,weeklyBlueV,'#5060f8',3.5,0.85);
dotRow(B.gp,xW,yW,weeklyGreenDots,'rgba(110,190,120,0.7)',4.4);
dotRow(B.gp,xW,yW,weeklyBlueDots,'rgba(70,140,225,0.75)',4.4);
crossRow(B.gp,xW,yW,weeklyRedCross,'#f0505e',3);
crossRow(B.gp,xW,yW,weeklyCyanCross,'#26c6da',3);
candles(B.gp,xW,yW,weeklyFirst,weeklyOpen,weeklyHigh,weeklyLow,weeklyClose,6);
tag(B.gp,xW(4.4),yW(weeklyTags[0][1]),weeklyTags[0][0],'rgba(225,150,175,0.45)');
tag(B.gp,xW(4.4),yW(weeklyTags[1][1]),weeklyTags[1][0],'rgba(190,170,200,0.45)');
tag(B.gp,xW(4.4),yW(weeklyTags[2][1]),weeklyTags[2][0],'rgba(110,200,125,0.38)');
tag(B.gp,xW(4.4),yW(weeklyTags[3][1]),weeklyTags[3][0],'rgba(80,200,230,0.38)');
const fin2=indicator(B.gi,P2,xW,iW,weeklyOsc,weeklyTsOrange);fin2();
weeklyPriceTicks.forEach(v=>tx(svg,650,yW(v)+6,fmt(v),{f:FA,s:16}));
tx(svg,650,iW(0)+6,'0.00%',{f:FA,s:16});
weeklyLevelTextVals.forEach((v,i)=>{tx(svg,628,yW(v)+5,weeklyLevelTexts[i],{f:FA,s:13,i:1,a:'end'});hl(svg,632,635,yW(v),'#555',2);});
rc(svg,637,yW(53.66)-13,722,yW(53.66)+13,'#4caf50');
tx(svg,648,yW(53.66)+6,'53.66%',{f:FA,s:15,c:'#fff',w:'bold'});
rc(svg,637,yW(51.26)-14,727,yW(51.26)+37,'#9e9e9e');
tx(svg,650,yW(51.26)+7,'51.26%',{f:FA,s:16});
tx(svg,650,yW(51.26)+30,'6d 2h',{f:FA,s:16});
weeklyTickWeeks.forEach((w,i)=>tx(B.gt,xW(w),1250,weeklyTickLabels[i],{f:FA,s:17,a:'middle'}));
rich(svg,18,670,[["Market Cap BTC Dominance, %, 1W, CRYPTOCAP  O",DARK],["51.25%",UP],["  H",DARK],["51.27%",UP],["  L",DARK],["51.17%",UP],["  C",DARK],["51.26%",UP],["  +0.01 (+0.03%)",UP],["  Vol",DARK],["99.27B",UP]]);
rich(svg,18,687,[["HA-MS_B (EMA, close, 5, 26, 150)  ",DARK],["49.52%  ","#858500"],["51.17%  ","#0000ff"],["42.19%  ","#ff9800"],["54.56%  ","#0000ff"],["50.82%  ","#0000ff"],["45.25%  ","#ff9800"],["39.42%  ","#ff9800"],["68.72%  ","#9598a1"],["45.66%","#4caf50"]]);
rich(svg,18,1133,[["TS - BW  ",DARK],["-38.94%","#3b62f2"],["  10.00%","#ff9800"]],11);

/* =================== PANEL 3 (1M) =================== */
const P3={x0:740,x1:1462,y0:652,y1:1265,px1:1362,py1:1110,iy1:1222};
const C=makePanel(P3,'c');
const xM=d3.scaleLinear().domain([0,36]).range([933,1196.9]);
const yM=d3.scaleLinear().domain([75,40]).range([683,1062.4]);
const iM=d3.scaleLinear().domain([100,-100]).range([1123,1213]);
monthlyPriceTicks.forEach(v=>hl(C.gp,P3.x0,P3.px1,yM(v),GRID,1));
monthlyTickMonths.forEach(m=>{vl(C.gp,xM(m),P3.y0,P3.py1,GRID,1);vl(C.gi,xM(m),P3.py1,P3.iy1,GRID,1);});
tx(C.gp,834,873,'BTC.D, 1M',{s:100,c:WM,L:441});
tx(C.gp,740,952,'Market Cap BTC Dominance, %',{s:43,c:WM,L:624});
monthlyZones.forEach(z=>rc(C.gp,xM(z[0]),yM(z[2]),xM(z[1]),yM(z[3]),ZONE,'rgba(255,152,0,0.7)',1));
monthlyRibRed.forEach(r=>ribbon(C.gp,xM,yM,r,'rgba(242,90,100,0.28)'));
monthlyRibPeach.forEach(r=>ribbon(C.gp,xM,yM,r,'rgba(250,150,110,0.3)'));
monthlyRibBlue.forEach(r=>ribbon(C.gp,xM,yM,r,'rgba(66,150,245,0.3)'));
monthlyRibCyan.forEach(r=>ribbon(C.gp,xM,yM,r,'rgba(0,200,225,0.25)'));
// fib levels (right labels)
const fibRC=['#9598a1','#b9a62b','#4a7fe6','#089981','#4caf50',DARK,'#f23645','#0c3b30','#9598a1'];
const fibRT=['#9598a1','#b9a62b','#4a7fe6','#089981','#4caf50',DARK,'#f23645','#0c3b30','#a3a6ae'];
fibRightVals.forEach((v,i)=>{
  const t=tx(svg,1354,yM(v)+5,`${fibRightNames[i]} (${v.toFixed(2)}%)`,{f:FA,s:13.5,c:fibRT[i],a:'end'});
  const w=t.node().getComputedTextLength();
  hl(C.gp,P3.x0,(i===6?P3.px1:1354-w-5),yM(v),fibRC[i],i===0?1.5:1.3);
  hl(svg,1357,1360,yM(v),fibRC[i],2);
});
const fibLC=['#9598a1','#0c3b30','#f23645',DARK];
fibLeftVals.forEach((v,i)=>{
  const t=tx(svg,748,yM(v)+5,`${fibLeftNames[i]} (${v.toFixed(2)}%)`,{f:FA,s:13.5,c:fibLC[i]});
  const w=t.node().getComputedTextLength();
  hl(C.gp,748+w+5,P3.px1,yM(v),fibLC[i],1.3);
  hl(svg,741,745,yM(v),fibLC[i],2);
});
hl(C.gp,P3.x0,1290,yM(56.78),'#9598a1',3);
hl(C.gp,xM(12.2),P3.px1,yM(48.45),'#ff9800',1,'2,3');
hl(C.gp,xM(12.2),P3.px1,yM(40.72),'#ff9800',1,'2,3');
hl(C.gp,xM(36.3),P3.px1,yM(43.40),'#ff9800',3,'3,7');
stepL(C.gp,xM,yM,monthlyOrangeD,monthlyOrangeV,'#ff9800',3,0.85);
dotRow(C.gp,xM,yM,monthlyGrayDots,'rgba(160,165,178,0.7)',4);
dotRow(C.gp,xM,yM,monthlyGreenDots,'rgba(110,190,120,0.7)',4);
crossRow(C.gp,xM,yM,monthlyCyanCross,'#26c6da',3);
monthlyTrends.forEach(t=>trend(C.gp,xM,yM,t,'#8b1450',3));
candles(C.gp,xM,yM,monthlyFirst,monthlyOpen,monthlyHigh,monthlyLow,monthlyClose,5);
tag(C.gp,xM(36.4),yM(monthlyTags[0][1]),monthlyTags[0][0],'rgba(165,170,182,0.45)');
tag(C.gp,xM(36.4),yM(monthlyTags[1][1]),monthlyTags[1][0],'rgba(110,200,125,0.38)');
tag(C.gp,xM(36.4),yM(monthlyTags[2][1]),monthlyTags[2][0],'rgba(80,200,230,0.38)');
const rads=[[29,33],[33,35],[23,22]];
monthlyCircles.forEach((c,i)=>svg.append('ellipse').attr('cx',xM(c[0])).attr('cy',yM(c[1])).attr('rx',rads[i][0]).attr('ry',rads[i][1]).attr('fill','none').attr('stroke','#ea1cea').attr('stroke-width',2));
const fin3=indicator(C.gi,P3,xM,iM,monthlyOsc,monthlyTsOrange);fin3();
monthlyPriceLabels.forEach(v=>tx(svg,1379,yM(v)+6,fmt(v),{f:FA,s:16}));
tx(svg,1380,iM(0)+6,'0.00%',{f:FA,s:16});
tx(svg,1354,yM(56.78)+5,'56.78',{f:FA,s:13,i:1,a:'end'});
rc(svg,1362,yM(51.26)-14,1455,yM(51.26)+36,'#9e9e9e');
tx(svg,1369,yM(51.26)+7,'51.26%',{f:FA,s:16});
tx(svg,1369,yM(51.26)+30,'9d 2h',{f:FA,s:16});
monthlyTickMonths.forEach((m,i)=>tx(C.gt,xM(m),1250,monthlyTickLabels[i],{f:FA,s:17,a:'middle'}));
rich(svg,748,670,[["Market Cap BTC Dominance, %, 1M, CRYPTOCAP  O",DARK],["51.60%",DN],["  H",DARK],["54.56%",DN],["  L",DARK],["50.82%",DN],["  C",DARK],["51.26%",DN],["  \u22120.34 (\u22120.65%)",DN],["  Vol",DARK],["3.286T",DN]]);
rich(svg,748,687,[["HA-MS_B (EMA, close, 5, 26, 150)  \u00d8  ",DARK],["43.40%  ","#ff9800"],["\u00d8  \u00d8  ",DARK],["48.45%  ","#ff9800"],["40.72%  ","#ff9800"],["61.73%  ","#9598a1"],["53.66%  ","#4caf50"],["\u00d8  \u00d8  ",DARK],["45.73%","#00bcd4"]]);
rich(svg,748,1130,[["TS - BW  ",DARK],["5.27%","#3b62f2"],["  30.00%","#ff9800"]],11);
</script>
</body></html>
